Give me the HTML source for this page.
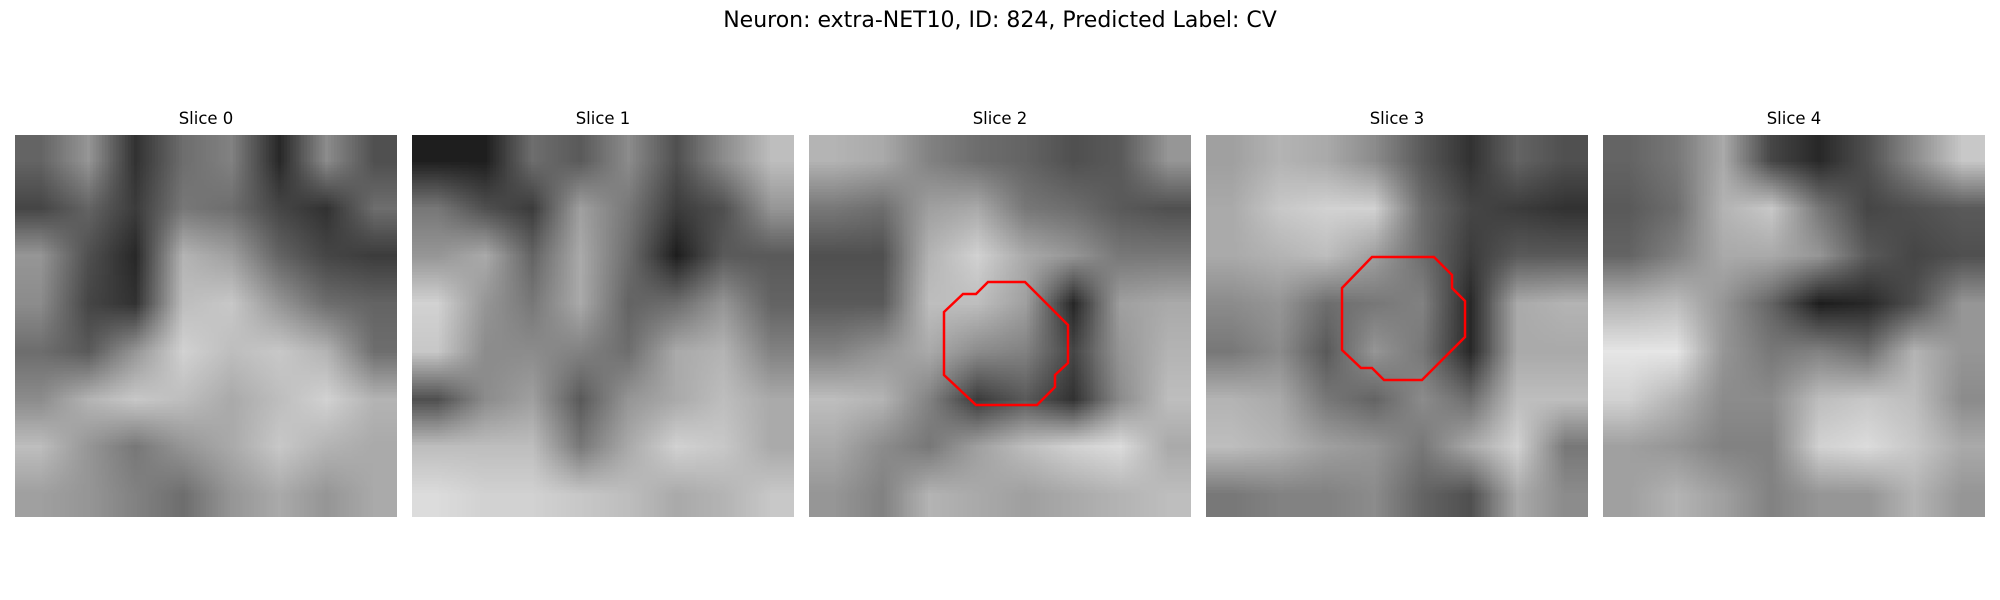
<!DOCTYPE html>
<html><head><meta charset="utf-8"><style>
body{margin:0;background:#fff;width:2000px;height:600px;position:relative;overflow:hidden;font-family:"DejaVu Sans","Liberation Sans",sans-serif;}
#title{position:absolute;left:0;width:2000px;top:8px;text-align:center;font-size:22px;color:#000;}
.lbl{position:absolute;width:382px;text-align:center;font-size:16.5px;top:109px;color:#000;}
canvas{position:absolute;top:135px;}
svg{position:absolute;left:0;top:0;}
</style></head><body>
<div id="title">Neuron: extra-NET10, ID: 824, Predicted Label: CV</div>
<div id="root"></div>
<svg width="2000" height="600">
<polygon fill="none" stroke="#ff0000" stroke-width="2.5" points="988,282 1025,282 1068,325 1068,363 1055,375 1055,387 1037,405 976,405 944,375 944,312 963,294 976,294"/>
<polygon fill="none" stroke="#ff0000" stroke-width="2.5" points="1372,257 1434,257 1452,275 1452,288 1465,301 1465,337 1422,380 1384,380 1372,368 1361,368 1342,350 1342,288"/>
</svg>
<script>
const sliceNames=["Slice 0","Slice 1","Slice 2","Slice 3","Slice 4"];
const slice0=[[100,150,50,110,130,40,140,80],[70,100,60,120,110,70,50,110],[150,80,40,180,160,100,70,60],[140,70,50,190,200,150,110,100],[110,90,150,210,190,200,180,110],[140,180,200,190,170,190,210,180],[190,150,120,150,170,200,180,170],[160,150,130,110,150,170,150,170]];
const slice1=[[30,30,110,90,140,80,140,190],[120,80,60,160,120,60,80,150],[150,170,100,170,110,30,90,90],[210,150,120,170,100,110,150,100],[200,140,140,130,110,170,180,130],[80,140,160,90,150,170,190,170],[190,190,190,120,170,210,200,170],[220,210,210,200,190,170,180,200]];
const slice2=[[180,170,130,110,100,80,90,150],[120,110,160,170,120,110,90,80],[80,80,180,210,170,150,120,120],[90,90,190,190,160,40,160,170],[130,150,170,140,130,70,150,180],[190,180,130,60,90,50,140,190],[170,140,120,160,190,210,220,170],[150,130,180,170,160,170,180,190]];
const slice3=[[160,180,170,140,90,50,100,80],[170,200,210,210,110,70,60,50],[170,180,190,160,110,60,90,90],[140,150,110,120,130,40,170,180],[120,140,90,150,120,40,170,170],[180,170,120,100,140,110,190,190],[190,180,160,150,120,170,210,120],[120,130,130,140,100,80,170,140]];
const slice4=[[100,120,170,70,40,80,140,200],[90,110,180,200,120,70,80,90],[100,130,170,170,150,90,70,80],[180,190,150,100,30,40,80,150],[230,230,150,120,130,110,180,150],[210,180,140,140,190,200,190,140],[160,150,130,130,210,220,200,170],[160,180,160,130,150,150,180,150]];
const slices=[slice0,slice1,slice2,slice3,slice4];
const root=document.getElementById('root');
const X0=15,STEP=397,SZ=382;
slices.forEach((g,i)=>{
  const lab=document.createElement('div');
  lab.className='lbl';lab.style.left=(X0+i*STEP)+'px';lab.textContent=sliceNames[i];
  
  
  root.appendChild(lab);
  const n=g.length;
  const src=document.createElement('canvas');src.width=n;src.height=n;
  const sc=src.getContext('2d');const im=sc.createImageData(n,n);
  for(let r=0;r<n;r++)for(let c=0;c<n;c++){const k=(r*n+c)*4,v=g[r][c];im.data[k]=v;im.data[k+1]=v;im.data[k+2]=v;im.data[k+3]=255;}
  sc.putImageData(im,0,0);
  const cv=document.createElement('canvas');cv.width=SZ;cv.height=SZ;cv.style.left=(X0+i*STEP)+'px';
  
  
  const ctx=cv.getContext('2d');ctx.imageSmoothingEnabled=true;ctx.drawImage(src,0,0,SZ,SZ);
  root.appendChild(cv);
});
</script>
</body></html>
